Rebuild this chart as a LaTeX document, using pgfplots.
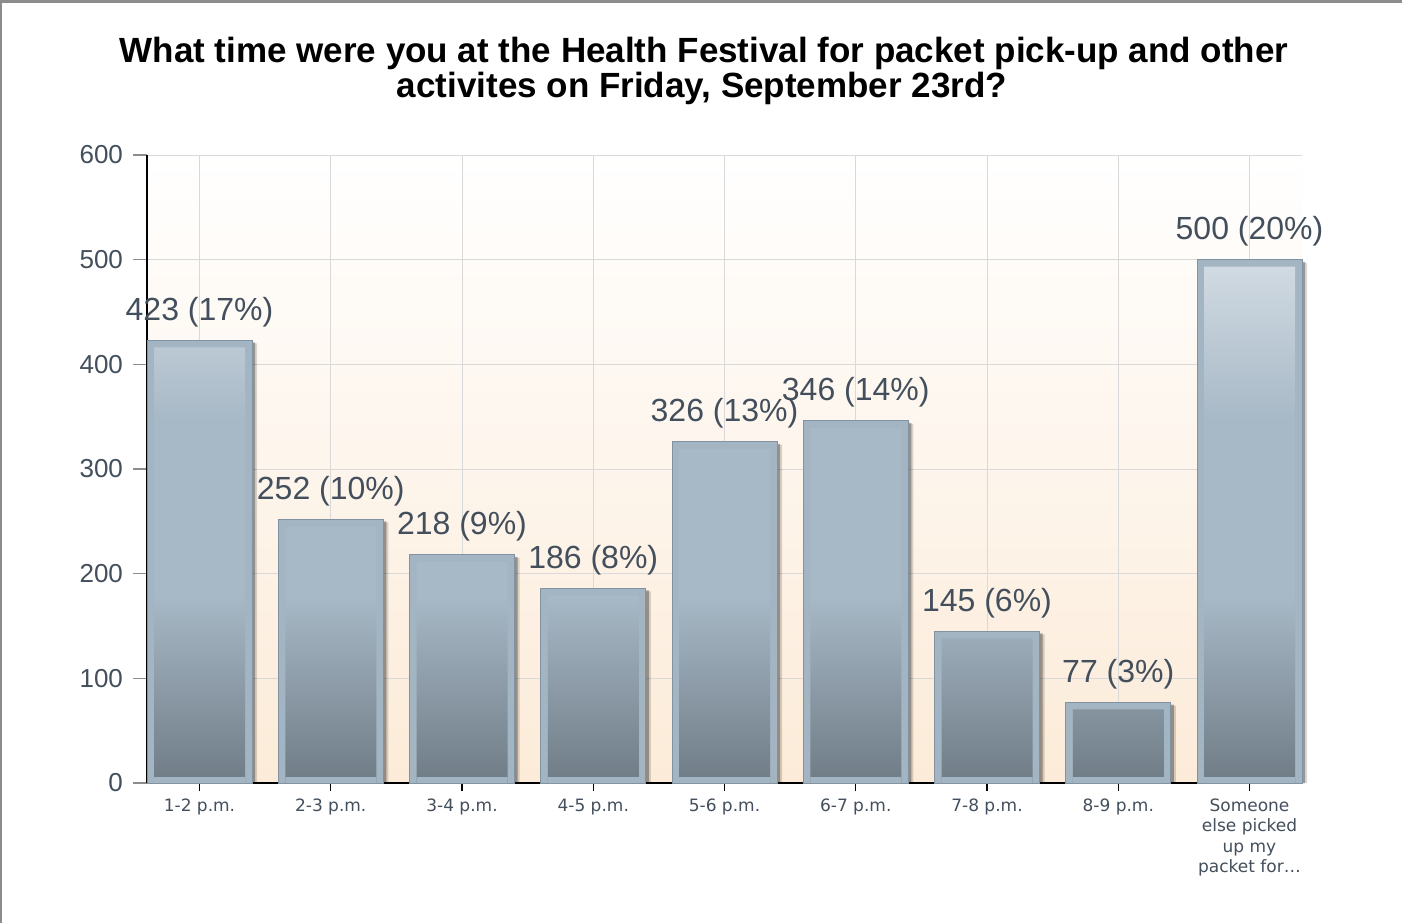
\documentclass[border=0pt]{standalone}
\usepackage{pgfplots}
\pgfplotsset{compat=1.18}
\usepackage{pgfplotstable}
\usepackage{fontspec}
\setmainfont{Liberation Sans}
\newfontfamily\dejavu{DejaVu Sans}

\definecolor{framec}{HTML}{A3B4C2}
\definecolor{outl}{HTML}{8193A1}
\definecolor{gtop}{HTML}{D0DAE2}
\definecolor{gmid}{HTML}{A7B8C6}
\definecolor{gbot}{HTML}{6F7C86}
\definecolor{peach}{HTML}{FCEBD8}
\definecolor{labcol}{HTML}{434F5C}
\pgfdeclareverticalshading{barshade}{100bp}{color(0bp)=(gbot); color(25bp)=(gbot); color(43bp)=(gmid); color(60bp)=(gmid); color(75bp)=(gtop); color(100bp)=(gtop)}

\pgfplotstableread{
x v pct
0 423 17
1 252 10
2 218 9
3 186 8
4 326 13
5 346 14
6 145 6
7 77 3
8 500 20
}\data

\begin{document}
\begin{tikzpicture}
\path[use as bounding box] (0pt,0pt) rectangle (701pt,461.5pt);
\fill[white] (0pt,0pt) rectangle (701pt,461.5pt);
\draw[black!45, line width=1.5pt] (0pt,460.5pt) -- (701pt,460.5pt);
\draw[black!45, line width=1pt] (0.5pt,0pt) -- (0.5pt,461.5pt);
\node[anchor=base, inner sep=0pt, font=\bfseries\fontsize{17.5}{20}\selectfont] at (352pt,430pt) {What time were you at the Health Festival for packet pick-up and other};
\node[anchor=base, inner sep=0pt, font=\bfseries\fontsize{17.5}{20}\selectfont] at (351pt,412.5pt) {activites on Friday, September 23rd?};
\begin{axis}[
  at={(73.5pt,70pt)}, anchor=south west,
  scale only axis, width=577.5pt, height=314pt,
  xmin=-0.4, xmax=8.4, ymin=0, ymax=600,
  xtick={0,1,2,3,4,5,6,7,8},
  xticklabels={1-2 p.m., 2-3 p.m., 3-4 p.m., 4-5 p.m., 5-6 p.m., 6-7 p.m., 7-8 p.m., 8-9 p.m., {Someone\\else picked\\up my\\packet for\ldots}},
  ytick={0,100,200,300,400,500,600},
  axis x line*=bottom, axis y line*=left,
  axis line style={black, line width=0.7pt},
  tick align=outside,
  major tick length=7pt,
  ytick style={color=black!45, line width=0.6pt},
  xtick style={color=black, line width=0.7pt, /pgfplots/major tick length=4pt},
  grid=major, grid style={color=black!15, line width=0.5pt},
  axis background/.style={top color=white, bottom color=peach},
  /pgf/number format/assume math mode=true,
  yticklabel style={font=\fontsize{13}{15}\selectfont, color=labcol, xshift=-1.5pt},
  xticklabel style={font=\dejavu\fontsize{8.5}{10.1}\selectfont, color=labcol, align=center, yshift=2.5pt},
  clip=false,
]
\addplot[ybar, bar width=52.5pt, bar shift=2.5pt, fill=black, fill opacity=0.15, draw=none, forget plot] table[x=x,y expr=\thisrow{v}-3]{\data};
\addplot[ybar, bar width=52.5pt, bar shift=1.5pt, fill=black, fill opacity=0.3, draw=none, forget plot] table[x=x,y expr=\thisrow{v}-2]{\data};
\addplot[ybar, bar width=52.5pt, bar shift=0pt, fill=framec, draw=outl, line width=0.5pt,
  nodes near coords={\pgfmathprintnumber{\pgfplotspointmeta}~(\pgfmathprintnumber{\pct}\%)},
  visualization depends on={\thisrow{pct}\as\pct},
  every node near coord/.append style={anchor=base, yshift=10pt, inner sep=0pt, font=\fontsize{16}{18}\selectfont, color=labcol},
  ] table[x=x,y=v]{\data};
\addplot[ybar, bar width=45.5pt, bar shift=0pt, draw=none, shading=barshade] table[x=x, y expr=\thisrow{v}-6.7]{\data};
\addplot[ybar, bar width=45.5pt, bar shift=0pt, draw=none, fill=framec] table[x=x, y expr=5.7]{\data};
\end{axis}
\end{tikzpicture}
\end{document}
